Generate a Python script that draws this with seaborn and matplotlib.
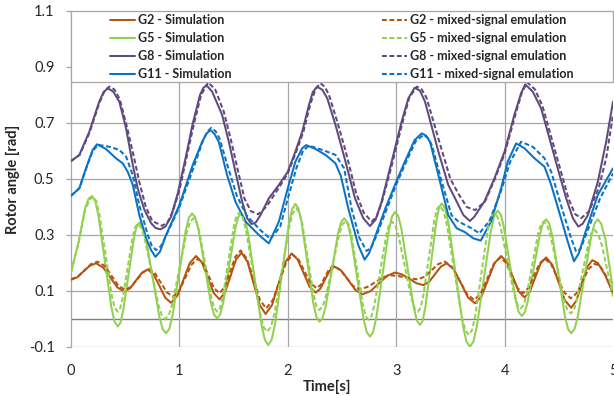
import matplotlib
matplotlib.use("Agg")
import matplotlib.pyplot as plt
import seaborn as sns
from matplotlib.lines import Line2D
from matplotlib.patches import Rectangle

# ---------------- data ----------------
t_g2_sim = [0, 0.058, 0.115, 0.173,
            0.231, 0.296, 0.362, 0.427,
            0.492, 0.546, 0.6, 0.654,
            0.708, 0.762, 0.816, 0.869,
            0.923, 0.981, 1.039, 1.096,
            1.154, 1.208, 1.262, 1.316,
            1.37, 1.421, 1.472, 1.522,
            1.573, 1.629, 1.684, 1.74,
            1.795, 1.855, 1.915, 1.975,
            2.035, 2.09, 2.146, 2.201,
            2.256, 2.3, 2.343, 2.387,
            2.43, 2.495, 2.56, 2.625,
            2.69, 2.765, 2.84, 2.915,
            2.99, 3.055, 3.12, 3.185,
            3.25, 3.304, 3.358, 3.412,
            3.466, 3.531, 3.597, 3.662,
            3.727, 3.787, 3.848, 3.908,
            3.968, 4.022, 4.076, 4.129,
            4.183, 4.233, 4.283, 4.333,
            4.383, 4.441, 4.499, 4.556,
            4.614, 4.663, 4.712, 4.761,
            4.81, 4.86, 4.93, 5.0]
g2_sim = [0.14, 0.149, 0.17, 0.19,
          0.199, 0.184, 0.149, 0.113,
          0.098, 0.11, 0.138, 0.165,
          0.177, 0.159, 0.118, 0.076,
          0.058, 0.083, 0.142, 0.2,
          0.225, 0.202, 0.148, 0.093,
          0.07, 0.095, 0.154, 0.212,
          0.237, 0.204, 0.128, 0.051,
          0.018, 0.05, 0.126, 0.202,
          0.234, 0.213, 0.164, 0.115,
          0.094, 0.108, 0.141, 0.173,
          0.187, 0.172, 0.138, 0.103,
          0.088, 0.1, 0.127, 0.154,
          0.166, 0.159, 0.144, 0.128,
          0.121, 0.133, 0.16, 0.187,
          0.199, 0.178, 0.128, 0.077,
          0.056, 0.081, 0.141, 0.2,
          0.225, 0.203, 0.151, 0.099,
          0.077, 0.098, 0.149, 0.199,
          0.22, 0.193, 0.13, 0.067,
          0.04, 0.066, 0.125, 0.185,
          0.21, 0.2, 0.155, 0.092]

t_g2_emu = [0, 0.061, 0.122, 0.184,
            0.245, 0.309, 0.373, 0.436,
            0.5, 0.555, 0.61, 0.665,
            0.72, 0.775, 0.83, 0.885,
            0.94, 0.998, 1.055, 1.113,
            1.17, 1.22, 1.27, 1.32,
            1.37, 1.419, 1.468, 1.516,
            1.565, 1.624, 1.683, 1.741,
            1.8, 1.861, 1.923, 1.984,
            2.045, 2.1, 2.155, 2.21,
            2.265, 2.304, 2.343, 2.381,
            2.42, 2.48, 2.54, 2.6,
            2.66, 2.733, 2.805, 2.878,
            2.95, 3.013, 3.075, 3.138,
            3.2, 3.263, 3.325, 3.388,
            3.45, 3.518, 3.585, 3.653,
            3.72, 3.78, 3.84, 3.9,
            3.96, 4.013, 4.065, 4.118,
            4.17, 4.22, 4.27, 4.32,
            4.37, 4.43, 4.49, 4.55,
            4.61, 4.665, 4.72, 4.775,
            4.83, 4.88, 4.94, 5.0]
g2_emu = [0.142, 0.151, 0.173, 0.196,
          0.205, 0.19, 0.155, 0.119,
          0.104, 0.115, 0.141, 0.167,
          0.178, 0.163, 0.129, 0.095,
          0.08, 0.1, 0.148, 0.195,
          0.215, 0.197, 0.154, 0.11,
          0.092, 0.115, 0.169, 0.222,
          0.245, 0.214, 0.142, 0.069,
          0.038, 0.067, 0.134, 0.201,
          0.23, 0.212, 0.17, 0.128,
          0.11, 0.122, 0.15, 0.178,
          0.19, 0.177, 0.148, 0.119,
          0.106, 0.114, 0.131, 0.149,
          0.156, 0.154, 0.149, 0.144,
          0.142, 0.151, 0.174, 0.196,
          0.205, 0.184, 0.137, 0.089,
          0.068, 0.091, 0.144, 0.197,
          0.22, 0.201, 0.156, 0.111,
          0.092, 0.111, 0.154, 0.197,
          0.216, 0.195, 0.145, 0.095,
          0.074, 0.092, 0.136, 0.179,
          0.197, 0.19, 0.15, 0.09]

t_g5_sim = [0, 0.07, 0.13, 0.163,
            0.194, 0.224, 0.253, 0.313, 0.372, 0.401,
            0.431, 0.456, 0.481, 0.531, 0.581, 0.606,
            0.631, 0.662, 0.692, 0.754, 0.815, 0.846,
            0.877, 0.907, 0.937, 0.997, 1.057, 1.087,
            1.117, 1.146, 1.175, 1.233, 1.29, 1.319,
            1.348, 1.376, 1.404, 1.459, 1.515, 1.542,
            1.57, 1.601, 1.633, 1.695, 1.758, 1.789,
            1.82, 1.851, 1.883, 1.945, 2.008, 2.039,
            2.07, 2.098, 2.126, 2.182, 2.237, 2.265,
            2.293, 2.321, 2.35, 2.407, 2.463, 2.492,
            2.52, 2.55, 2.58, 2.639, 2.699, 2.728,
            2.758, 2.787, 2.816, 2.874, 2.932, 2.961,
            2.99, 3.019, 3.048, 3.105, 3.163, 3.191,
            3.22, 3.245, 3.27, 3.32, 3.37, 3.395,
            3.42, 3.453, 3.485, 3.55, 3.615, 3.647,
            3.68, 3.712, 3.744, 3.809, 3.873, 3.905,
            3.937, 3.965, 3.992, 4.048, 4.103, 4.13,
            4.158, 4.186, 4.214, 4.27, 4.327, 4.355,
            4.383, 4.412, 4.441, 4.499, 4.556, 4.585,
            4.614, 4.645, 4.676, 4.737, 4.799, 4.829,
            4.86, 4.89, 4.93, 5.0]
g5_sim = [0.165, 0.275, 0.395, 0.43,
          0.439, 0.421, 0.369, 0.206, 0.043, -0.009,
          -0.027, -0.013, 0.029, 0.159, 0.289, 0.331,
          0.345, 0.33, 0.286, 0.147, 0.008, -0.036,
          -0.051, -0.035, 0.013, 0.163, 0.313, 0.361,
          0.377, 0.363, 0.321, 0.19, 0.058, 0.016,
          0.002, 0.016, 0.058, 0.19, 0.322, 0.364,
          0.378, 0.36, 0.307, 0.143, -0.022, -0.075,
          -0.093, -0.074, -0.017, 0.159, 0.335, 0.392,
          0.411, 0.395, 0.348, 0.2, 0.053, 0.006,
          -0.01, 0.004, 0.046, 0.175, 0.305, 0.346,
          0.36, 0.344, 0.297, 0.149, 0.0, -0.047,
          -0.063, -0.046, 0.004, 0.16, 0.316, 0.366,
          0.383, 0.368, 0.322, 0.181, 0.04, -0.006,
          -0.021, -0.005, 0.044, 0.196, 0.348, 0.397,
          0.413, 0.394, 0.336, 0.157, -0.022, -0.08,
          -0.099, -0.081, -0.026, 0.144, 0.314, 0.369,
          0.387, 0.373, 0.331, 0.199, 0.067, 0.025,
          0.011, 0.024, 0.063, 0.184, 0.304, 0.343,
          0.356, 0.341, 0.295, 0.153, 0.01, -0.036,
          -0.051, -0.036, 0.01, 0.153, 0.295, 0.341,
          0.356, 0.341, 0.285, 0.105]

t_g5_emu = [0, 0.07, 0.13, 0.175,
            0.205, 0.233, 0.261, 0.318, 0.374, 0.402,
            0.43, 0.453, 0.476, 0.523, 0.569, 0.592,
            0.615, 0.647, 0.679, 0.743, 0.806, 0.838,
            0.87, 0.903, 0.935, 1.0, 1.065, 1.097,
            1.13, 1.158, 1.185, 1.24, 1.295, 1.322,
            1.35, 1.375, 1.4, 1.45, 1.5, 1.525,
            1.55, 1.583, 1.615, 1.68, 1.745, 1.777,
            1.81, 1.844, 1.878, 1.945, 2.013, 2.046,
            2.08, 2.106, 2.133, 2.185, 2.238, 2.264,
            2.29, 2.321, 2.351, 2.413, 2.474, 2.504,
            2.535, 2.561, 2.588, 2.64, 2.693, 2.719,
            2.745, 2.772, 2.799, 2.853, 2.906, 2.933,
            2.96, 2.99, 3.02, 3.08, 3.14, 3.17,
            3.2, 3.225, 3.25, 3.3, 3.35, 3.375,
            3.4, 3.434, 3.468, 3.535, 3.603, 3.636,
            3.67, 3.699, 3.728, 3.785, 3.843, 3.871,
            3.9, 3.931, 3.963, 4.025, 4.088, 4.119,
            4.15, 4.176, 4.203, 4.255, 4.308, 4.334,
            4.36, 4.391, 4.423, 4.485, 4.548, 4.579,
            4.61, 4.638, 4.665, 4.72, 4.775, 4.802,
            4.83, 4.86, 4.9, 5.0]
g5_emu = [0.169, 0.27, 0.39, 0.428,
          0.437, 0.421, 0.375, 0.232, 0.088, 0.042,
          0.026, 0.038, 0.073, 0.183, 0.293, 0.328,
          0.34, 0.327, 0.289, 0.17, 0.051, 0.013,
          0.0, 0.014, 0.054, 0.18, 0.306, 0.346,
          0.36, 0.347, 0.31, 0.193, 0.076, 0.039,
          0.026, 0.039, 0.079, 0.203, 0.327, 0.367,
          0.38, 0.364, 0.316, 0.168, 0.019, -0.029,
          -0.045, -0.028, 0.021, 0.175, 0.329, 0.378,
          0.395, 0.381, 0.341, 0.214, 0.086, 0.046,
          0.032, 0.044, 0.08, 0.191, 0.302, 0.338,
          0.35, 0.337, 0.297, 0.174, 0.05, 0.01,
          -0.003, 0.01, 0.05, 0.173, 0.295, 0.335,
          0.348, 0.336, 0.3, 0.187, 0.074, 0.038,
          0.026, 0.04, 0.083, 0.216, 0.348, 0.391,
          0.405, 0.387, 0.336, 0.174, 0.012, -0.039,
          -0.057, -0.04, 0.009, 0.162, 0.314, 0.363,
          0.38, 0.367, 0.329, 0.209, 0.089, 0.051,
          0.038, 0.05, 0.085, 0.193, 0.302, 0.336,
          0.348, 0.336, 0.299, 0.184, 0.069, 0.032,
          0.02, 0.031, 0.065, 0.169, 0.273, 0.307,
          0.318, 0.306, 0.26, 0.08]

t_g8_sim = [0, 0.077, 0.169, 0.26, 0.3, 0.339, 0.39, 0.446, 0.508, 0.57,
            0.616, 0.677, 0.739, 0.78, 0.825, 0.87, 0.923, 0.985, 1.06, 1.12,
            1.19, 1.22, 1.25, 1.302, 1.394, 1.456, 1.517, 1.579, 1.625, 1.665,
            1.705, 1.748, 1.825, 1.918, 2.0, 2.07, 2.133, 2.195, 2.23, 2.27,
            2.32, 2.364, 2.44, 2.52, 2.62, 2.696, 2.758, 2.81, 2.865, 2.958,
            3.05, 3.112, 3.17, 3.22, 3.266, 3.389, 3.48, 3.543, 3.62, 3.68,
            3.72, 3.813, 3.906, 4.0, 4.09, 4.152, 4.19, 4.26, 4.337, 4.414,
            4.49, 4.568, 4.63, 4.68, 4.72, 4.768, 4.86, 4.937, 5.0]
g8_sim = [0.564, 0.586, 0.669, 0.776, 0.81, 0.824, 0.812, 0.776, 0.681, 0.55,
          0.465, 0.39, 0.342, 0.325, 0.32, 0.33, 0.365, 0.449, 0.58, 0.693,
          0.8, 0.825, 0.835, 0.812, 0.729, 0.633, 0.526, 0.419, 0.36, 0.339,
          0.345, 0.371, 0.431, 0.479, 0.526, 0.598, 0.669, 0.764, 0.81, 0.83,
          0.818, 0.788, 0.693, 0.58, 0.431, 0.36, 0.332, 0.355, 0.419, 0.562,
          0.705, 0.788, 0.826, 0.815, 0.776, 0.598, 0.479, 0.431, 0.371, 0.35,
          0.365, 0.419, 0.502, 0.598, 0.729, 0.806, 0.838, 0.812, 0.752, 0.645,
          0.538, 0.431, 0.36, 0.33, 0.34, 0.371, 0.49, 0.633, 0.776]

t_g8_emu = [0, 0.08, 0.17, 0.26, 0.31, 0.354, 0.40, 0.45, 0.52, 0.585,
            0.63, 0.69, 0.75, 0.84, 0.89, 0.94, 1.0, 1.13, 1.2, 1.265,
            1.33, 1.41, 1.475, 1.54, 1.6, 1.66, 1.727, 1.8, 1.92, 2.0,
            2.08, 2.145, 2.21, 2.255, 2.3, 2.34, 2.38, 2.46, 2.54, 2.63,
            2.7, 2.773, 2.82, 2.87, 2.96, 3.05, 3.12, 3.19, 3.235, 3.28,
            3.4, 3.5, 3.57, 3.65, 3.73, 3.82, 3.91, 4.0, 4.1, 4.16,
            4.21, 4.28, 4.35, 4.43, 4.51, 4.59, 4.65, 4.706, 4.78, 4.87,
            4.94, 5.0]
g8_emu = [0.564, 0.586, 0.665, 0.77, 0.815, 0.83, 0.82, 0.785, 0.68, 0.57,
          0.49, 0.40, 0.35, 0.333, 0.345, 0.385, 0.46, 0.69, 0.80, 0.845,
          0.82, 0.74, 0.64, 0.53, 0.43, 0.385, 0.374, 0.40, 0.47, 0.52,
          0.6, 0.67, 0.77, 0.82, 0.842, 0.83, 0.80, 0.70, 0.59, 0.45,
          0.38, 0.348, 0.365, 0.42, 0.55, 0.69, 0.79, 0.83, 0.82, 0.79,
          0.63, 0.50, 0.45, 0.40, 0.389, 0.42, 0.5, 0.59, 0.73, 0.81,
          0.845, 0.82, 0.76, 0.65, 0.54, 0.43, 0.375, 0.36, 0.385, 0.47,
          0.58, 0.73]

t_g11_sim = [0, 0.077, 0.138, 0.2, 0.24, 0.323, 0.415, 0.477, 0.523, 0.57,
             0.63, 0.693, 0.739, 0.779, 0.82, 0.877, 1.0, 1.123, 1.21, 1.25,
             1.286, 1.325, 1.363, 1.44, 1.517, 1.61, 1.733, 1.825, 1.918, 2.0,
             2.07, 2.133, 2.17, 2.256, 2.348, 2.44, 2.49, 2.558, 2.65, 2.708,
             2.75, 2.8, 2.9, 3.0, 3.08, 3.17, 3.235, 3.275, 3.312, 3.389,
             3.48, 3.558, 3.635, 3.712, 3.78, 3.875, 3.968, 4.029, 4.106, 4.183,
             4.275, 4.368, 4.43, 4.52, 4.583, 4.64, 4.685, 4.737, 4.86, 5.0]
g11_sim = [0.44, 0.467, 0.538, 0.604, 0.624, 0.607, 0.574, 0.556, 0.526, 0.479,
           0.371, 0.288, 0.246, 0.222, 0.24, 0.3, 0.407, 0.55, 0.633, 0.662,
           0.675, 0.66, 0.633, 0.514, 0.419, 0.348, 0.3, 0.27, 0.348, 0.467,
           0.562, 0.61, 0.621, 0.607, 0.586, 0.556, 0.51, 0.395, 0.264, 0.212,
           0.235, 0.288, 0.395, 0.49, 0.562, 0.639, 0.663, 0.655, 0.633, 0.514,
           0.371, 0.324, 0.31, 0.288, 0.28, 0.348, 0.467, 0.562, 0.627, 0.61,
           0.574, 0.544, 0.479, 0.36, 0.276, 0.206, 0.235, 0.3, 0.443, 0.538]

t_g11_emu = [0, 0.077, 0.138, 0.2, 0.25, 0.354, 0.446, 0.508, 0.57, 0.63,
             0.708, 0.745, 0.785, 0.83, 0.88, 1.0, 1.13, 1.22, 1.26, 1.295,
             1.335, 1.37, 1.45, 1.53, 1.62, 1.74, 1.84, 1.93, 2.0, 2.08,
             2.14, 2.195, 2.318, 2.44, 2.52, 2.588, 2.66, 2.727, 2.77, 2.82,
             2.92, 3.0, 3.09, 3.18, 3.25, 3.29, 3.33, 3.42, 3.51, 3.574,
             3.696, 3.767, 3.86, 3.97, 4.05, 4.152, 4.26, 4.368, 4.43, 4.52,
             4.614, 4.66, 4.7, 4.75, 4.88, 5.0]
g11_emu = [0.44, 0.467, 0.535, 0.60, 0.622, 0.615, 0.604, 0.58, 0.514, 0.407,
           0.3, 0.262, 0.246, 0.26, 0.3, 0.4, 0.54, 0.64, 0.67, 0.683,
           0.67, 0.645, 0.54, 0.44, 0.37, 0.32, 0.286, 0.33, 0.43, 0.54,
           0.6, 0.619, 0.604, 0.586, 0.538, 0.395, 0.29, 0.243, 0.255, 0.3,
           0.4, 0.48, 0.56, 0.635, 0.657, 0.648, 0.62, 0.49, 0.371, 0.348,
           0.324, 0.306, 0.35, 0.46, 0.56, 0.633, 0.615, 0.574, 0.526, 0.407,
           0.288, 0.24, 0.25, 0.3, 0.43, 0.52]

generators = ["G2", "G5", "G8", "G11"]
sim_label = "Simulation"
emu_label = "mixed-signal emulation"
y_ticks = [-0.1, 0.1, 0.3, 0.5, 0.7, 0.9, 1.1]
x_ticks = [0, 1, 2, 3, 4, 5]
x_title = "Time[s]"
y_title = "Rotor angle [rad]"

# ---------------- style ----------------
sns.set_style("white")
plt.rcParams["font.family"] = ["Lato", "DejaVu Sans"]

colors = {"G2": "#B5540F", "G5": "#92D050", "G8": "#5F4A7E", "G11": "#0A72C6"}
dash = (0, (2.4, 1.3))
LW = 1.45

fig = plt.figure(figsize=(6.14, 3.96), dpi=100)
ax = fig.add_axes([71 / 614, 1 - 347 / 396, 542 / 614, 336 / 396])

sim_series = {"G2": (t_g2_sim, g2_sim), "G5": (t_g5_sim, g5_sim),
              "G8": (t_g8_sim, g8_sim), "G11": (t_g11_sim, g11_sim)}
emu_series = {"G2": (t_g2_emu, g2_emu), "G5": (t_g5_emu, g5_emu),
              "G8": (t_g8_emu, g8_emu), "G11": (t_g11_emu, g11_emu)}

for g in generators:
    t, v = sim_series[g]
    sns.lineplot(x=t, y=v, ax=ax, color=colors[g], linewidth=LW,
                 estimator=None, legend=False, zorder=3)
for g in generators:
    t, v = emu_series[g]
    sns.lineplot(x=t, y=v, ax=ax, color=colors[g], linewidth=LW,
                 linestyle=dash, estimator=None, legend=False, zorder=3)

ax.set_xlim(0, 5)
ax.set_ylim(-0.1, 1.1)

grid_c = "#A6A6A6"
for yv in y_ticks:
    ax.axhline(yv, color=grid_c, lw=0.9, zorder=1)
ax.axhline(0, color="#7F7F7F", lw=1.0, zorder=1)
for xv in x_ticks[1:-1]:
    ax.axvline(xv, color=grid_c, lw=0.9, zorder=1)

for s in ["top", "right", "bottom"]:
    ax.spines[s].set_visible(False)
ax.spines["left"].set_color(grid_c)
ax.spines["left"].set_linewidth(0.9)

ax.set_yticks(y_ticks)
ax.set_yticklabels([f"{v:.1f}" for v in y_ticks])
ax.set_xticks(x_ticks)
ax.set_xticklabels([str(v) for v in x_ticks])
ax.tick_params(axis="y", direction="out", length=3.8, width=0.9, color=grid_c,
               pad=8, labelsize=10.5, labelcolor="#262626", left=True)
ax.tick_params(axis="x", length=0, pad=12, labelsize=10.5, labelcolor="#262626")

ax.set_xlabel(x_title, fontsize=10.5, fontweight="bold", color="#262626")
ax.set_ylabel(y_title, fontsize=10.5, fontweight="bold", color="#262626")
ax.xaxis.set_label_coords(0.472, -0.098)
ax.yaxis.set_label_coords(-0.094, 0.5)

# legend box
box = Rectangle((0, 0.789), 1, 0.211, transform=ax.transAxes, facecolor="white",
                edgecolor=grid_c, lw=0.9, zorder=4, clip_on=False)
ax.add_patch(box)

h_sim = [Line2D([], [], color=colors[g], lw=LW) for g in generators]
h_emu = [Line2D([], [], color=colors[g], lw=LW, linestyle=dash) for g in generators]
common = dict(loc="upper left", frameon=False, borderpad=0, borderaxespad=0,
              handlelength=2.0, handletextpad=0.25, labelspacing=0.47,
              prop={"weight": "bold", "size": 9})
leg1 = ax.legend(h_sim, [f"{g} - {sim_label}" for g in generators],
                 bbox_to_anchor=((110 - 71) / 542, 0.99), **common)
leg1.set_zorder(6)
ax.add_artist(leg1)
leg2 = ax.legend(h_emu, [f"{g} - {emu_label}" for g in generators],
                 bbox_to_anchor=((382 - 71) / 542, 0.99), **common)
leg2.set_zorder(6)

fig.savefig("out.png", dpi=100)
